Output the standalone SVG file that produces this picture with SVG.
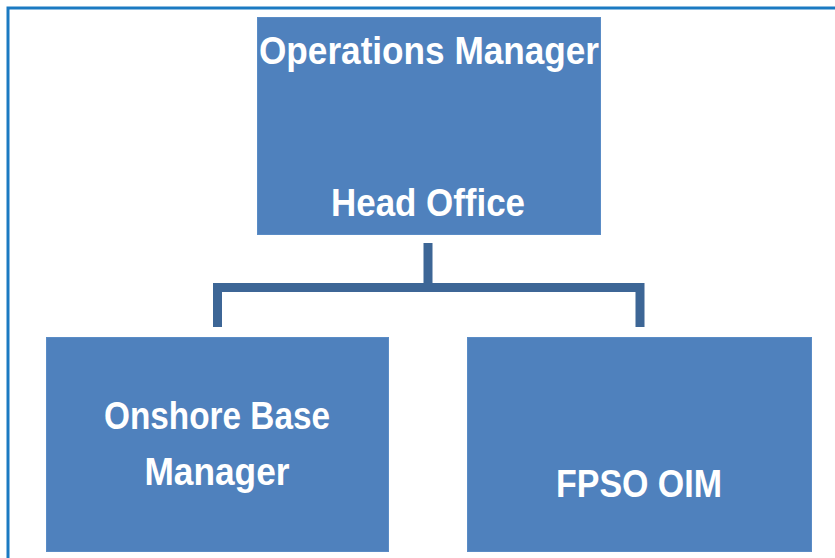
<svg xmlns="http://www.w3.org/2000/svg" width="835" height="558" viewBox="0 0 835 558">
<style>
.box{fill:#4f81bd;stroke:#5a8cc6;stroke-width:1}
.lbl{font-family:"Liberation Sans",Arial,sans-serif;font-weight:bold;fill:#ffffff;text-anchor:middle;font-size:38px}
.conn{fill:none;stroke:#3d6696;stroke-width:9;stroke-linejoin:miter}
</style>
<rect x="0" y="0" width="835" height="558" fill="#ffffff"/>
<rect x="8" y="8" width="840" height="560" fill="none" stroke="#1b7ac2" stroke-width="3"/>
<g id="connectors">
<path class="conn" d="M428,243 V287.5 M217.5,327 V287.5 H640 V327"/>
</g>
<g id="ops-manager">
<rect class="box" x="257.5" y="17.5" width="343" height="217"/>
<text class="lbl" x="429" y="64" textLength="340" lengthAdjust="spacingAndGlyphs">Operations Manager</text>
<text class="lbl" x="428" y="216" textLength="194" lengthAdjust="spacingAndGlyphs">Head Office</text>
</g>
<g id="onshore-base-manager">
<rect class="box" x="46.5" y="337.5" width="342" height="214"/>
<text class="lbl" x="217" y="429" textLength="226" lengthAdjust="spacingAndGlyphs">Onshore Base</text>
<text class="lbl" x="217" y="485" textLength="145" lengthAdjust="spacingAndGlyphs">Manager</text>
</g>
<g id="fpso-oim">
<rect class="box" x="467.5" y="337.5" width="344" height="214"/>
<text class="lbl" x="639" y="497" textLength="166" lengthAdjust="spacingAndGlyphs">FPSO OIM</text>
</g>
</svg>
